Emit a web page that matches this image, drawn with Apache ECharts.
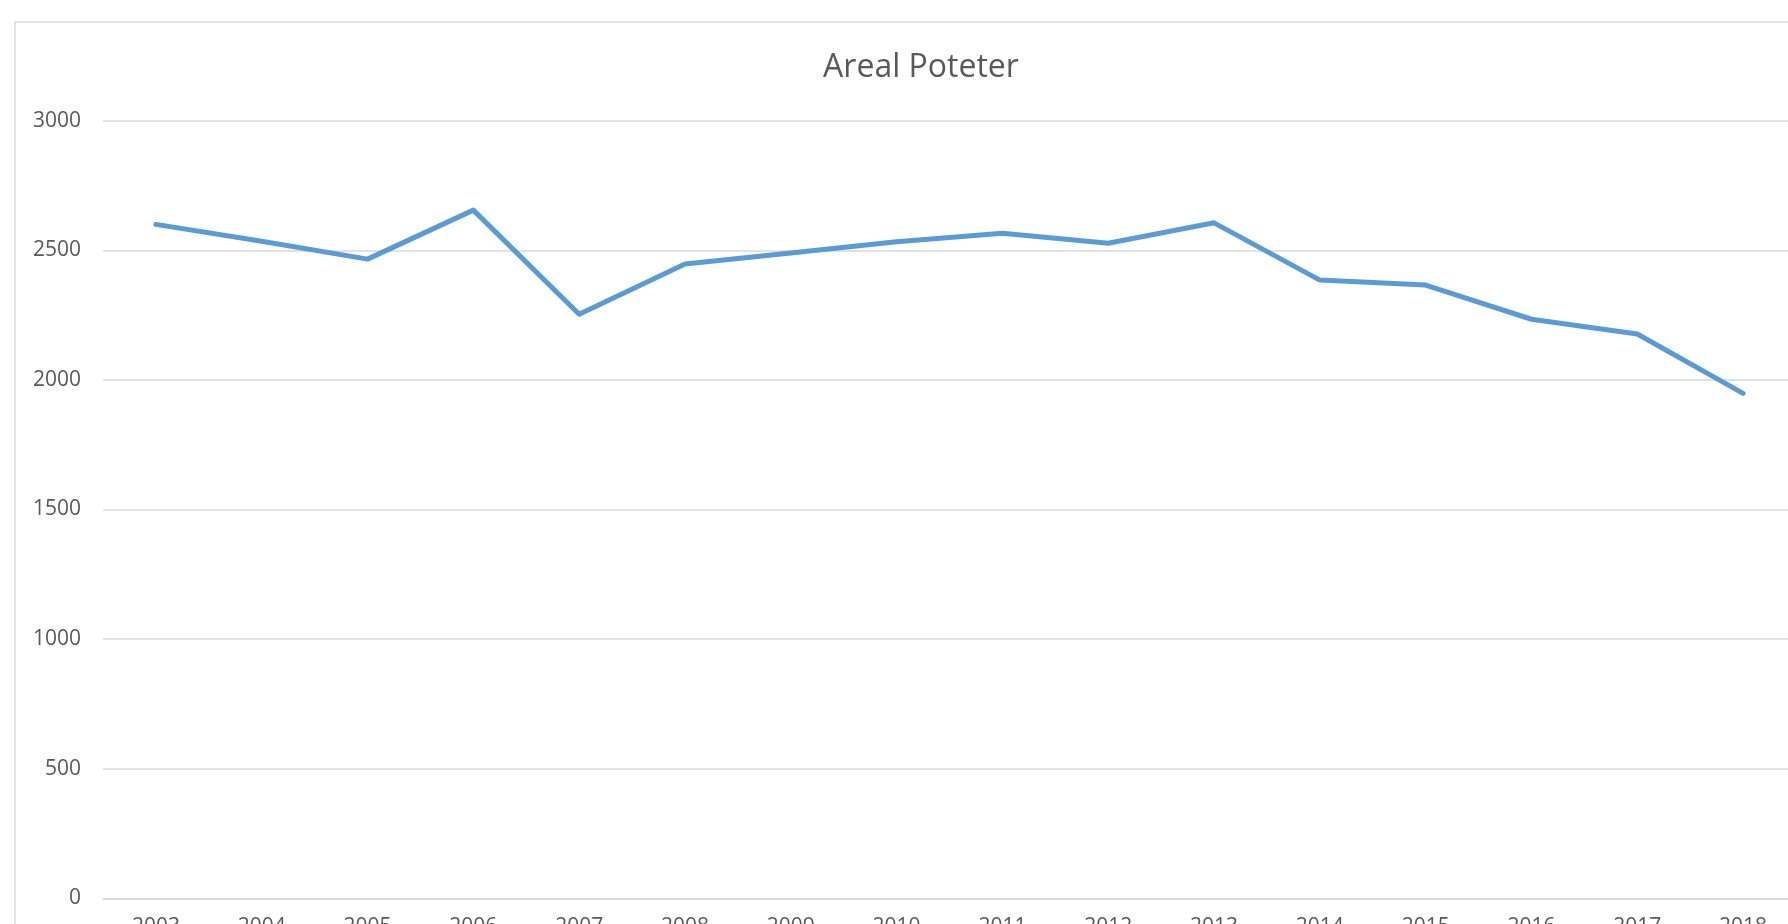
<!DOCTYPE html>
<html>
<head>
<meta charset="utf-8">
<script src="https://cdn.jsdelivr.net/npm/echarts@6/dist/echarts.min.js"></script>
<style>
html,body{margin:0;padding:0;background:#fff;}
#chart{width:1788px;height:924px;}
</style>
</head>
<body>
<div id="chart"></div>
<script>
const titleText = 'Areal Poteter';
const years = ['2003','2004','2005','2006','2007','2008','2009','2010','2011','2012','2013','2014','2015','2016','2017','2018'];
const areal = [2600, 2535, 2466, 2655, 2253, 2447, 2490, 2533, 2566, 2527, 2606, 2385, 2366, 2234, 2177, 1948];
const yTicks = {min: 0, max: 3000, interval: 500};

const chart = echarts.init(document.getElementById('chart'), null, {renderer: 'canvas'});
const font = '"Open Sans", "Liberation Sans", sans-serif';
chart.setOption({
  animation: false,
  backgroundColor: '#ffffff',
  graphic: [{
    type: 'rect',
    silent: true,
    shape: {x: 15, y: 22, width: 1800, height: 1000},
    style: {fill: 'none', stroke: '#d9d9d9', lineWidth: 1.5}
  }],
  title: {
    text: titleText,
    left: 916,
    textAlign: 'center',
    top: 47,
    textStyle: {fontFamily: font, fontSize: 32, fontWeight: 'normal', color: '#595959'}
  },
  grid: {left: 103, top: 120.7, width: 1693, bottom: 25.7, containLabel: false, outerBoundsMode: 'none'},
  xAxis: {
    type: 'category',
    data: years,
    boundaryGap: true,
    axisLine: {show: true, lineStyle: {color: '#d9d9d9', width: 1.5}},
    axisTick: {show: false},
    axisLabel: {fontFamily: font, fontSize: 21, color: '#595959', margin: 18, interval: 0}
  },
  yAxis: {
    type: 'value',
    min: yTicks.min,
    max: yTicks.max,
    interval: yTicks.interval,
    axisLine: {show: false},
    axisTick: {show: false},
    splitLine: {lineStyle: {color: '#d9d9d9', width: 1.5}},
    axisLabel: {fontFamily: font, fontSize: 21, color: '#595959', margin: 22, formatter: function (v) { return String(v); }}
  },
  series: [{
    type: 'line',
    data: areal,
    symbol: 'none',
    lineStyle: {color: '#5b9bd5', width: 5, cap: 'round', join: 'round'},
    itemStyle: {color: '#5b9bd5'}
  }]
});
</script>
</body>
</html>
